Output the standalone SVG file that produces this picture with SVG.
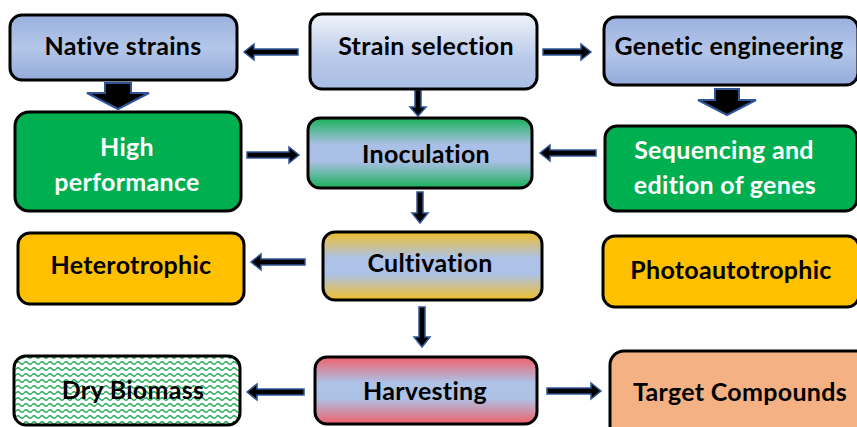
<svg xmlns="http://www.w3.org/2000/svg" width="857" height="427" viewBox="0 0 857 427">
<style>
.box{stroke:#000;stroke-width:3}
.t{font-family:Lato,"Liberation Sans",sans-serif;font-weight:bold;font-size:25px;letter-spacing:0.3px;fill:#000;text-anchor:middle}
.w{fill:#fff}
.arr{fill:#000;stroke:#2F5597;stroke-width:1.5;stroke-linejoin:miter}
.blk{fill:#000;stroke:#2F5597;stroke-width:2}
</style>
<defs>
<linearGradient id="gBlue" x1="0" y1="0" x2="0" y2="1">
<stop offset="0" stop-color="#9AB0DE"/><stop offset="0.5" stop-color="#B4C7E9"/><stop offset="1" stop-color="#94ABDA"/>
</linearGradient>
<linearGradient id="gStrain" x1="0" y1="0" x2="0" y2="1">
<stop offset="0" stop-color="#F0F3FA"/><stop offset="0.6" stop-color="#B8C9E9"/><stop offset="1" stop-color="#AABEE5"/>
</linearGradient>
<linearGradient id="gInoc" x1="0" y1="0" x2="0" y2="1">
<stop offset="0" stop-color="#19B25A"/><stop offset="0.38" stop-color="#AABFE5"/><stop offset="0.62" stop-color="#AABFE5"/><stop offset="1" stop-color="#19B25A"/>
</linearGradient>
<linearGradient id="gCult" x1="0" y1="0" x2="0" y2="1">
<stop offset="0" stop-color="#F0BE2A"/><stop offset="0.38" stop-color="#ADC2E6"/><stop offset="0.62" stop-color="#ADC2E6"/><stop offset="1" stop-color="#F0BE2A"/>
</linearGradient>
<linearGradient id="gHarv" x1="0" y1="0" x2="0" y2="1">
<stop offset="0" stop-color="#F0606A"/><stop offset="0.38" stop-color="#AEC2E6"/><stop offset="0.62" stop-color="#AEC2E6"/><stop offset="1" stop-color="#F0606A"/>
</linearGradient>
<pattern id="wave" width="8" height="6" patternUnits="userSpaceOnUse">
<rect width="8" height="6" fill="#fff"/>
<path d="M0,3 Q2,0.5 4,3 T8,3" fill="none" stroke="#1FAA55" stroke-width="1.3"/>
</pattern>
</defs>

<g id="connectors">
<polygon class="blk" points="105,83 131,83 131,93 149,93 118,109 87,93 105,93"/>
<polygon class="blk" points="715,89 739,89 739,100 756,100 727,115 698,100 715,100"/>
<polygon class="arr" points="298,49 254,49 254,44 244,52 254,60 254,55 298,55"/>
<polygon class="arr" points="543,49 581,49 581,44 591,52 581,60 581,55 543,55"/>
<polygon class="arr" points="415,90 415,107 410,107 418,116 426,107 421,107 421,90"/>
<polygon class="arr" points="247,152 289,152 289,147 299,155 289,163 289,158 247,158"/>
<polygon class="arr" points="596,150 550,150 550,145 540,153 550,161 550,156 596,156"/>
<polygon class="arr" points="417,192 417,213 412,213 420,223 428,213 423,213 423,192"/>
<polygon class="arr" points="305,259 261,259 261,254 251,262 261,270 261,265 305,265"/>
<polygon class="arr" points="419,307 419,337 414,337 422,347 430,337 425,337 425,307"/>
<polygon class="arr" points="304,389 257,389 257,384 247,392 257,400 257,395 304,395"/>
<polygon class="arr" points="547,388 591,388 591,383 601,391 591,399 591,394 547,394"/>
</g>

<g id="native"><rect class="box" x="10" y="15" width="227" height="65" rx="12" fill="url(#gBlue)"/><text class="t" x="123" y="55">Native strains</text></g>
<g id="strain"><rect class="box" x="310" y="14" width="227" height="75" rx="12" fill="url(#gStrain)"/><text class="t" x="426" y="55">Strain selection</text></g>
<g id="genetic"><rect class="box" x="604" y="17" width="254" height="68" rx="12" fill="url(#gBlue)"/><text class="t" x="729" y="55">Genetic engineering</text></g>
<g id="high"><rect class="box" x="15" y="112" width="226" height="99" rx="14" fill="#00B050"/><text class="t w" x="127" y="156">High</text><text class="t w" x="127" y="191">performance</text></g>
<g id="inoc"><rect class="box" x="308" y="118" width="224" height="70" rx="12" fill="url(#gInoc)"/><text class="t" x="426" y="163">Inoculation</text></g>
<g id="seq"><rect class="box" x="605" y="126" width="252" height="85" rx="12" fill="#00B050"/><text class="t w" x="724" y="159">Sequencing and</text><text class="t w" x="725" y="194">edition of genes</text></g>
<g id="het"><rect class="box" x="18" y="233" width="226" height="71" rx="12" fill="#FFC000"/><text class="t" x="131" y="274">Heterotrophic</text></g>
<g id="cult"><rect class="box" x="323" y="232" width="219" height="68" rx="12" fill="url(#gCult)"/><text class="t" x="430" y="272">Cultivation</text></g>
<g id="photo"><rect class="box" x="603" y="236" width="256" height="71" rx="12" fill="#FFC000"/><text class="t" x="731" y="279">Photoautotrophic</text></g>
<g id="dry"><rect class="box" x="14" y="356" width="226" height="69" rx="12" fill="url(#wave)"/><text class="t" x="133" y="399">Dry Biomass</text></g>
<g id="harv"><rect class="box" x="315" y="357" width="222" height="67" rx="12" fill="url(#gHarv)"/><text class="t" x="425" y="400">Harvesting</text></g>
<g id="target"><rect class="box" x="610" y="351" width="260" height="90" rx="14" fill="#F4B183"/><text class="t" x="740" y="401">Target Compounds</text></g>
</svg>
